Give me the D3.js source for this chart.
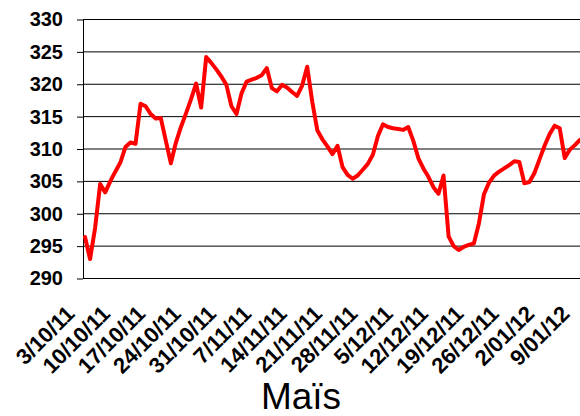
<!DOCTYPE html>
<html>
<head>
<meta charset="utf-8">
<script src="https://cdn.jsdelivr.net/npm/d3@7"></script>
<style>
  body { margin: 0; background: #fff; }
  svg { display: block; }
</style>
</head>
<body>
<div id="chart"></div>
<script>
// daily prices, 3/10/11 -> 9/01/12
var startDate = new Date(2011, 9, 3);
var prices = [
  296.4, 293.0, 297.8, 304.6, 303.3, 305.0, 306.5, 307.9, 310.3, 311.0,
  310.8, 317.0, 316.6, 315.4, 314.7, 314.8, 311.3, 307.8, 311.0, 313.4,
  315.5, 317.7, 320.1, 316.4, 324.2, 323.3, 322.3, 321.2, 319.9, 316.6,
  315.4, 318.6, 320.4, 320.7, 321.0, 321.4, 322.5, 319.4, 318.9, 319.9,
  319.5, 318.8, 318.2, 319.8, 322.7, 317.3, 312.9, 311.5, 310.4, 309.2,
  310.5, 307.2, 306.0, 305.4, 305.9, 306.8, 307.7, 309.1, 312.0, 313.8,
  313.4, 313.2, 313.1, 312.95, 313.4, 311.3, 308.6, 307.0, 305.7, 304.1,
  303.1, 305.9, 296.5, 295.0, 294.4, 294.9, 295.2, 295.4, 298.5, 303.0,
  304.8, 305.9, 306.5, 307.0, 307.5, 308.1, 308.0, 304.7, 304.9, 306.3,
  308.4, 310.5, 312.3, 313.6, 313.2, 308.6, 309.9, 310.6, 311.4
];
var tickLabels = ["3/10/11","10/10/11","17/10/11","24/10/11","31/10/11","7/11/11","14/11/11",
  "21/11/11","28/11/11","5/12/11","12/12/11","19/12/11","26/12/11","2/01/12","9/01/12"];
var yTicks = [290, 295, 300, 305, 310, 315, 320, 325, 330];
var title = "Maïs";

var data = prices.map(function (v, i) {
  return { date: d3.timeDay.offset(startDate, i), value: v };
});
var tickDates = tickLabels.map(function (t, i) { return d3.timeDay.offset(startDate, i * 7); });

var W = 580, H = 416;
var font = "'Liberation Sans', Arial, sans-serif";
var svg = d3.select("#chart").append("svg").attr("width", W).attr("height", H);

var x = d3.scaleTime()
  .domain([startDate, d3.timeDay.offset(startDate, prices.length - 1)])
  .range([85, 579.9]);
var y = d3.scaleLinear().domain([290, 330]).range([278.5, 19.5]);

// gridlines + y labels
var yAxis = svg.append("g").attr("transform", "translate(83,0)")
  .call(d3.axisLeft(y).tickValues(yTicks).tickSize(6).tickFormat(d3.format("d")));
yAxis.select(".domain").remove();
yAxis.selectAll(".tick line").attr("stroke", "#000");
yAxis.selectAll(".tick text")
  .attr("x", -20)
  .attr("fill", "#000")
  .style("font-family", font)
  .style("font-size", "20px")
  .style("font-weight", "bold");

svg.append("g").selectAll("line.grid").data(yTicks).enter().append("line")
  .attr("class", "grid")
  .attr("x1", 83).attr("x2", W)
  .attr("y1", function (d) { return y(d); })
  .attr("y2", function (d) { return y(d); })
  .attr("stroke", "#000").attr("stroke-width", 1);

svg.append("line")
  .attr("x1", 83.5).attr("x2", 83.5)
  .attr("y1", y(330)).attr("y2", y(290))
  .attr("stroke", "#000").attr("stroke-width", 1);

// x labels, rotated
svg.append("g").selectAll("text.xl").data(tickLabels).enter().append("text")
  .attr("class", "xl")
  .attr("transform", function (d, i) {
    return "translate(" + (x(tickDates[i]) - 9) + ",315) rotate(-45)";
  })
  .attr("text-anchor", "end")
  .style("font-family", font)
  .style("font-size", "22px")
  .style("font-weight", "bold")
  .text(function (d) { return d; });

// price line
var line = d3.line()
  .x(function (d) { return x(d.date); })
  .y(function (d) { return y(d.value); });

svg.append("path").datum(data)
  .attr("d", line)
  .attr("fill", "none")
  .attr("stroke", "#ff0000")
  .attr("stroke-width", 4)
  .attr("stroke-linejoin", "round")
  .attr("stroke-linecap", "round");

svg.append("text")
  .attr("x", 301).attr("y", 409)
  .attr("text-anchor", "middle")
  .style("font-family", font)
  .style("font-size", "37px")
  .text(title);
</script>
</body>
</html>
